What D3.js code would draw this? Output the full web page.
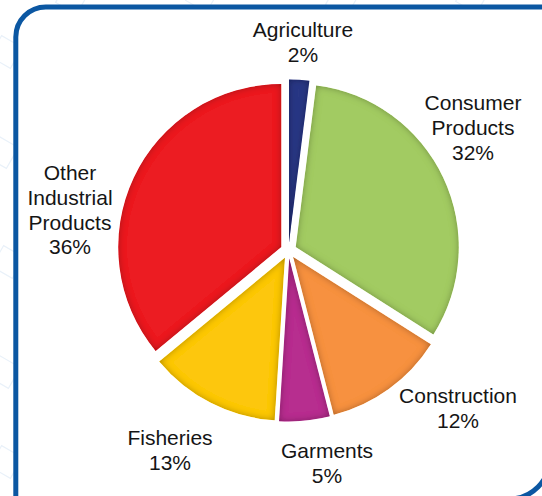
<!DOCTYPE html>
<html>
<head>
<meta charset="utf-8">
<script src="https://cdn.jsdelivr.net/npm/d3@7"></script>
<style>
  html, body { margin: 0; padding: 0; background: #fff; }
  svg { display: block; }
  text { font-family: "Liberation Sans", Arial, sans-serif; fill: #151515; }
</style>
</head>
<body>
<svg id="chart" width="542" height="496"></svg>
<script>
// sector shares, in percent
let sectors = ["Agriculture", "Consumer Products", "Construction", "Garments", "Fisheries", "Other Industrial Products"];
let shares = [2, 32, 12, 5, 13, 36];
let labelLines = [["Agriculture"], ["Consumer", "Products"], ["Construction"], ["Garments"], ["Fisheries"], ["Other", "Industrial", "Products"]];

let cols = ['#2b3784', '#a2cb62', '#f7913f', '#b72f8f', '#fdc70c', '#ec1c24'];

let w = 542, h = 496;
let cx = 288.5, cy = 250.5, rad = 163, expl = 8;
let lh = 24.8;
// label anchor: centre x, first baseline y
let labelAt = [[303, 37], [473, 110], [458, 403], [327, 458], [170, 445], [70, 180]];

let svg = d3.select('#chart');
let defs = svg.append('defs');

// inner shadow so the slices look bevelled
let f = defs.append('filter').attr('id', 'bevel')
    .attr('x', '-5%').attr('y', '-5%').attr('width', '110%').attr('height', '110%');
f.append('feGaussianBlur').attr('in', 'SourceAlpha').attr('stdDeviation', 3.6).attr('result', 'blur');
f.append('feComposite').attr('in', 'SourceAlpha').attr('in2', 'blur')
    .attr('operator', 'arithmetic').attr('k2', 1).attr('k3', -1).attr('result', 'edge');
f.append('feFlood').attr('flood-color', '#000').attr('flood-opacity', 0.62);
f.append('feComposite').attr('in2', 'edge').attr('operator', 'in').attr('result', 'shade');
let fm = f.append('feMerge');
fm.append('feMergeNode').attr('in', 'SourceGraphic');
fm.append('feMergeNode').attr('in', 'shade');

// faint background pattern outside the frame
let bg = svg.append('g').attr('stroke', '#e9f1f9').attr('fill', 'none').attr('stroke-width', 1.2);
[[-6, 40], [-10, 140], [-4, 250], [-8, 360], [-6, 450], [60, -14], [190, -16], [330, -12], [460, -15]].forEach(p => {
    bg.append('rect').attr('x', p[0]).attr('y', p[1]).attr('width', 24).attr('height', 24)
        .attr('transform', 'rotate(30 ' + (p[0] + 12) + ' ' + (p[1] + 12) + ')');
});

// frame: rounded top-left and bottom-right corners
let fl = 15.8, ft = 7, fr = 550, fb = 499;
svg.append('path')
    .attr('d', 'M' + fl + ',' + (h + 20) + ' V' + (ft + 30) + ' A30,30 0 0 1 ' + (fl + 30) + ',' + ft +
        ' H' + fr + ' V' + (fb - 41) + ' A41,41 0 0 1 ' + (fr - 41) + ',' + fb + ' H-20')
    .attr('fill', '#fff')
    .attr('stroke', '#0b57a2')
    .attr('stroke-width', 5);

let pie = d3.pie().sort(null).value(d => d);
let arcs = pie(shares);
let arc = d3.arc().innerRadius(0).outerRadius(rad);

let g = svg.append('g').attr('transform', 'translate(' + cx + ',' + cy + ')');

g.selectAll('path.slice')
    .data(arcs)
    .enter()
    .append('path')
    .attr('class', 'slice')
    .attr('d', arc)
    .attr('fill', (d, i) => cols[i])
    .attr('filter', 'url(#bevel)')
    .attr('transform', d => {
        let m = (d.startAngle + d.endAngle) / 2;
        return 'translate(' + (Math.sin(m) * expl) + ',' + (-Math.cos(m) * expl) + ')';
    });

// labels
let lg = svg.append('g').attr('text-anchor', 'middle').attr('font-size', '21px');
sectors.forEach((s, i) => {
    let t = lg.append('text').attr('x', labelAt[i][0]).attr('y', labelAt[i][1]);
    labelLines[i].concat([shares[i] + '%']).forEach((ln, j) => {
        t.append('tspan').attr('x', labelAt[i][0]).attr('dy', j === 0 ? 0 : lh).text(ln);
    });
});
</script>
</body>
</html>
